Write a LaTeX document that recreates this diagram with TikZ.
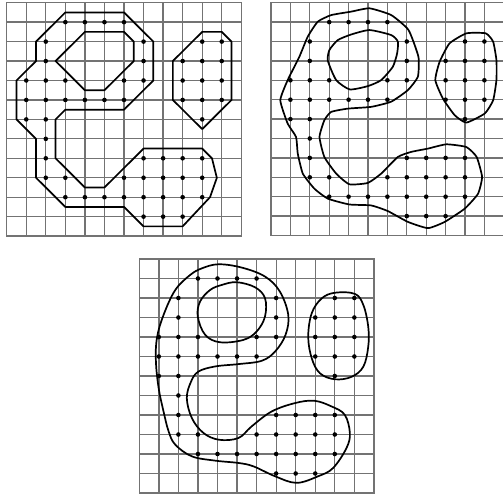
\documentclass[tikz,border=0pt]{standalone}
\usetikzlibrary{calc}

% 13x13 lattice lines of one panel
\newcommand{\squaregrid}{%
  \foreach \k in {0,...,12} {
    \draw[gridline] (\k,0) -- (\k,12);
    \draw[gridline] (0,\k) -- (12,\k);
  }}
% the sample points, row by row
\newcommand{\latticedots}{%
  \foreach \r/\cols in {1/{3,4,5,6},2/{2,7,10,11},3/{2,7,9,10,11},
      4/{1,2,3,6,7,9,10,11},5/{1,2,3,4,5,6,9,10,11},6/{1,2,10},7/{2},
      8/{2,7,8,9,10},9/{2,3,6,7,8,9,10},10/{3,4,5,6,7,8,9,10},11/{7,8,9}}
    \foreach \c in \cols \fill (\c,\r) circle (2.3pt);}

\begin{document}
\begin{tikzpicture}[x=1pt,y=-1pt,
    gridline/.style={black!55,line width=1.3pt,line cap=rect},
    contour/.style={black,line width=1.7pt,line join=round}]
  \useasboundingbox (0,0) rectangle (503,497);

  % polygonal outline
  \begin{scope}[shift={(6.7,2.7)},x=19.55pt,y=-19.45pt]
    \squaregrid
    \latticedots
    \draw[contour] (3,0.5) -- (6,0.5) -- (7.5,2) -- (7.5,4) -- (6,5.5)
      -- (3,5.5) -- (2.5,6) -- (2.5,8) -- (4,9.5) -- (5,9.5) -- (7,7.5)
      -- (10,7.5) -- (10.5,8) -- (10.75,9) -- (10.4,10) -- (9,11.5)
      -- (7,11.5) -- (6,10.5) -- (3,10.5) -- (1.5,9) -- (1.5,7) -- (0.5,6)
      -- (0.5,4) -- (1.5,3) -- (1.5,2) -- cycle;
    \draw[contour] (4,1.5) -- (6,1.5) -- (6.5,2) -- (6.5,3) -- (5,4.5)
      -- (4,4.5) -- (2.5,3) -- cycle;
    \draw[contour] (10,1.5) -- (11,1.5) -- (11.5,2) -- (11.5,5) -- (10,6.5)
      -- (8.5,5) -- (8.5,3) -- cycle;
  \end{scope}

  % rough freehand outline
  \begin{scope}[shift={(271,2.7)},x=19.4pt,y=-19.4pt]
    \squaregrid
    \latticedots
    \draw[contour] plot[smooth cycle,tension=0.3] coordinates {
      (5.08,0.29) (6.2,0.64) (7.09,1.41) (7.6,2.79) (7.57,3.82) (7.06,4.5)
      (6.2,5.1) (5.16,5.37) (3.96,5.46) (3.1,5.63) (2.75,6.06) (2.5,6.92)
      (2.75,7.95) (3.36,8.81) (4.04,9.36) (4.99,9.29) (5.68,8.81) (6.54,7.95)
      (7.23,7.69) (8.09,7.52) (9.04,7.3) (10.07,7.44) (10.6,7.95) (10.88,8.98)
      (10.67,9.85) (9.98,10.62) (8.95,11.3) (8.09,11.62) (7.06,11.3)
      (6.02,10.74) (5.16,10.45) (4.04,10.4) (2.93,10.1) (2.24,9.59)
      (1.64,8.81) (1.38,7.78) (1.29,6.92) (0.86,6.23) (0.48,5.03) (0.86,3.99)
      (1.46,2.79) (1.89,1.76) (2.41,0.98) (3.1,0.64) (4.13,0.46)};
    \draw[contour] plot[smooth cycle,tension=0.35] coordinates {
      (5.08,1.41) (6.2,1.67) (6.54,2.01) (6.5,2.62) (6.28,3.3) (5.68,3.99)
      (4.99,4.3) (4.06,4.47) (3.36,3.99) (2.93,2.99) (3.01,2.44) (3.44,1.93)
      (4.13,1.64)};
    \draw[contour] plot[smooth cycle,tension=0.3] coordinates {
      (10.07,1.58) (11.07,1.58) (11.45,2.01) (11.62,2.96) (11.62,3.99)
      (11.45,5.03) (11.02,5.71) (10.07,6.18) (9.47,5.8) (8.86,4.94)
      (8.47,3.99) (8.69,3.05) (9.2,2.1)};
  \end{scope}

  % smooth outline
  \begin{scope}[shift={(139.3,259)},x=19.55pt,y=-19.5pt]
    \squaregrid
    \latticedots
    \draw[contour] plot[smooth cycle,tension=0.6] coordinates {
      (4.05,0.27) (5.24,0.44) (6.43,0.9) (7.19,1.67) (7.62,2.87) (7.48,3.89)
      (6.95,4.74) (6.26,5.22) (5.07,5.39) (3.88,5.51) (3.03,5.77) (2.65,6.28)
      (2.43,7.13) (2.69,8.16) (3.28,8.92) (4.08,9.27) (5.07,9.18) (5.75,8.58)
      (6.77,7.82) (7.96,7.39) (8.95,7.27) (9.83,7.56) (10.51,7.99)
      (10.77,8.92) (10.6,9.69) (9.91,10.72) (9.15,11.14) (8.04,11.48)
      (6.94,11.14) (5.83,10.63) (5.07,10.46) (3.88,10.34) (2.69,10.12)
      (1.84,9.52) (1.5,8.84) (1.24,7.82) (0.99,6.62) (0.85,5.26) (0.9,4.06)
      (1.24,2.87) (1.84,1.59) (2.6,0.82) (3.2,0.48)};
    \draw[contour] plot[smooth cycle,tension=0.6] coordinates {
      (4.98,1.19) (5.92,1.45) (6.43,2.01) (6.43,2.95) (6.0,3.72) (5.32,4.15)
      (4.13,4.27) (3.37,3.89) (2.99,2.95) (3.11,2.18) (3.62,1.59) (4.22,1.33)};
    \draw[contour] plot[smooth cycle,tension=0.6] coordinates {
      (10.01,1.73) (11.03,1.79) (11.46,2.36) (11.71,3.47) (11.71,4.5)
      (11.46,5.52) (10.86,6.04) (10.01,6.17) (9.24,5.86) (8.82,5.09)
      (8.64,3.98) (8.82,2.78) (9.33,2.02)};
  \end{scope}
\end{tikzpicture}
\end{document}
